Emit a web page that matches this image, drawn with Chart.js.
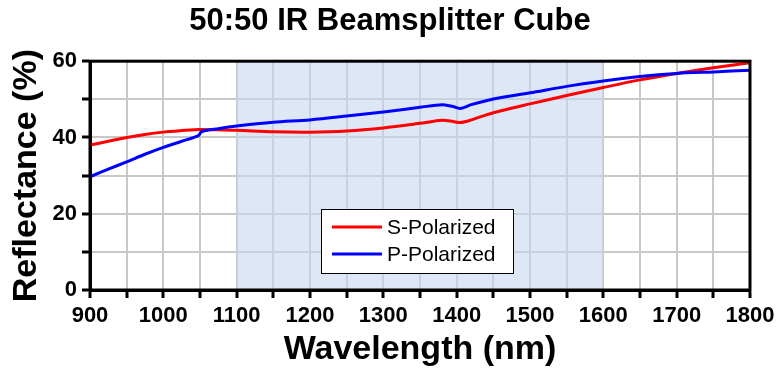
<!DOCTYPE html>
<html>
<head>
<meta charset="utf-8">
<script src="https://cdn.jsdelivr.net/npm/chart.js@4"></script>
<style>
html,body{margin:0;padding:0;background:#fff;}
#wrap{width:780px;height:370px;}
</style>
</head>
<body>
<div id="wrap"><canvas id="bsChart" width="780" height="370"></canvas></div>
<script>
const wavelength = [900,925,950,975,1000,1025,1048,1052,1075,1100,1150,1200,1250,1300,1350,1380,1395,1405,1420,1450,1500,1550,1600,1650,1700,1750,1800];
const sPolarized = [38.0,39.0,40.0,40.8,41.4,41.8,42.1,42.1,42.0,41.9,41.5,41.4,41.7,42.5,43.7,44.5,44.2,43.9,44.6,46.5,48.8,51.0,53.1,55.1,56.8,58.3,59.6];
const pPolarized = [29.7,31.7,33.6,35.6,37.4,39.0,40.5,41.5,42.3,43.0,44.0,44.6,45.6,46.7,47.9,48.6,48.1,47.6,48.6,50.1,51.7,53.4,54.8,56.0,56.8,57.2,57.6];
const shadeBand = [1100,1600];

const FONT = "'Liberation Sans', Arial, sans-serif";

const toPoints = vals => wavelength.map((w,i) => ({x:w, y:vals[i]}));

// light blue band + frame + in-plot legend
const extras = {
  id:'extras',
  beforeDatasetsDraw(chart){
    const {ctx, chartArea:a, scales:{x}} = chart;
    const x0 = x.getPixelForValue(shadeBand[0]);
    const x1 = x.getPixelForValue(shadeBand[1]);
    ctx.save();
    ctx.fillStyle = 'rgba(200,215,240,0.6)';
    ctx.fillRect(x0, a.top, x1-x0, a.bottom-a.top);
    ctx.restore();
  },
  afterDatasetsDraw(chart){
    const {ctx, chartArea:a} = chart;
    ctx.save();
    ctx.strokeStyle = '#000';
    ctx.lineWidth = 3;
    ctx.strokeRect(a.left, a.top, a.right-a.left, a.bottom-a.top);

    // legend box
    const bx = 321, by = 209, bw = 192, bh = 64;
    ctx.fillStyle = '#fff';
    ctx.fillRect(bx, by, bw, bh);
    ctx.lineWidth = 1;
    ctx.strokeRect(bx+0.5, by+0.5, bw, bh);
    ctx.font = '21px ' + FONT;
    ctx.textBaseline = 'middle';
    chart.data.datasets.forEach((ds,i) => {
      const yy = by + 18 + i*27;
      ctx.strokeStyle = ds.borderColor;
      ctx.lineWidth = 3;
      ctx.beginPath();
      ctx.moveTo(bx+11, yy);
      ctx.lineTo(bx+61, yy);
      ctx.stroke();
      ctx.fillStyle = '#000';
      ctx.fillText(ds.label, bx+66, yy+1);
    });
    ctx.restore();
  }
};

new Chart(document.getElementById('bsChart'), {
  type:'line',
  data:{
    datasets:[
      {label:'S-Polarized', data:toPoints(sPolarized), borderColor:'#ff0000', borderWidth:3, pointRadius:0, tension:0.3, order:1},
      {label:'P-Polarized', data:toPoints(pPolarized), borderColor:'#0000ff', borderWidth:3, pointRadius:0, tension:0.3, order:0}
    ]
  },
  options:{
    responsive:false,
    animation:false,
    layout:{padding:{left:30, right:30, bottom:0}},
    plugins:{
      legend:{display:false},
      tooltip:{enabled:false},
      title:{
        display:true,
        text:'50:50 IR Beamsplitter Cube',
        color:'#000',
        font:{family:FONT, size:31, weight:'bold'},
        padding:{top:3, bottom:21}
      }
    },
    scales:{
      x:{
        type:'linear',
        min:900, max:1800,
        ticks:{
          stepSize:50,
          autoSkip:false,
          maxRotation:0,
          color:'#000',
          font:{family:FONT, size:22, weight:'bold'},
          padding:5,
          callback:v => v % 100 === 0 ? v : ''
        },
        grid:{color:'#c8c8c8', lineWidth:2, tickColor:'#000', tickWidth:3, tickLength:8},
        border:{color:'#000', width:3},
        title:{display:true, text:'Wavelength (nm)', color:'#000', font:{family:FONT, size:34, weight:'bold'}, padding:{top:0, bottom:0}},
        afterFit(s){ s.height = 80; }
      },
      y:{
        min:0, max:60,
        ticks:{
          stepSize:10,
          color:'#000',
          font:{family:FONT, size:22, weight:'bold'},
          padding:5,
          callback:v => v % 20 === 0 ? v : ''
        },
        grid:{color:'#c8c8c8', lineWidth:2, tickColor:'#000', tickWidth:3, tickLength:8},
        border:{color:'#000', width:3},
        title:{display:true, text:'Reflectance (%)', color:'#000', font:{family:FONT, size:34, weight:'bold'}, padding:{top:-24, bottom:0}},
        afterFit(s){ s.width = 60; }
      }
    }
  },
  plugins:[extras]
});
</script>
</body>
</html>
